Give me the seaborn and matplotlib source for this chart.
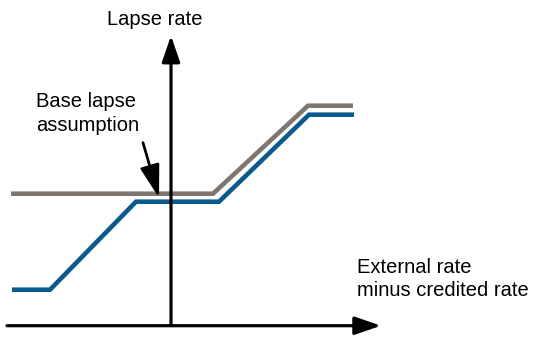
import matplotlib
matplotlib.use('Agg')
import matplotlib.pyplot as plt
import seaborn as sns
import pandas as pd

# Stylised lapse curves (x: external minus credited rate, y: lapse rate)
grey_x = [-8.0, 2.1, 6.85, 9.1]
grey_y = [6.6, 6.6, 11.0, 11.0]
blue_x = [-7.95, -6.05, -1.75, 2.4, 6.9, 9.15]
blue_y = [1.8, 1.8, 6.2, 6.2, 10.55, 10.55]

y_label = 'Lapse rate'
x_label = 'External rate\nminus credited rate'
note = 'Base lapse\nassumption'

sns.set_style('white')
plt.rcParams['font.family'] = ['Liberation Sans', 'DejaVu Sans']
plt.rcParams['text.color'] = 'black'

fig = plt.figure(figsize=(5.44, 3.6), dpi=100)
ax = fig.add_axes([0, 0, 1, 1])

grey = pd.DataFrame({'x': grey_x, 'y': grey_y})
blue = pd.DataFrame({'x': blue_x, 'y': blue_y})
sns.lineplot(data=grey, x='x', y='y', ax=ax, color='#7f776f', lw=3.3,
             sort=False, solid_joinstyle='miter', solid_capstyle='butt')
sns.lineplot(data=blue, x='x', y='y', ax=ax, color='#0b5a8e', lw=3.3,
             sort=False, solid_joinstyle='miter', solid_capstyle='butt')

# axes drawn as arrows
head = '-|>,head_length=1.6,head_width=0.55'
ax.annotate('', xy=(10.5, 0), xytext=(-8.2, 0),
            arrowprops=dict(arrowstyle=head, lw=2.3, color='black',
                            shrinkA=0, shrinkB=0))
ax.annotate('', xy=(0, 14.5), xytext=(0, 0),
            arrowprops=dict(arrowstyle=head, lw=2.3, color='black',
                            shrinkA=0, shrinkB=0))

ax.text(-0.8, 15.3, y_label, ha='center', va='center', fontsize=14.5,
        color='black')
ax.text(9.3, 2.33, x_label, ha='left', va='center', fontsize=14.5,
        linespacing=1.3, color='black')
ax.text(-6.75, 10.6, note, ha='left', va='center', fontsize=14.5,
        linespacing=1.3, color='black')
ax.annotate('', xy=(-0.6, 6.4), xytext=(-1.4, 9.15),
            arrowprops=dict(arrowstyle='-|>,head_length=2.0,head_width=0.6',
                            lw=2.0, color='black', shrinkA=0, shrinkB=0))

ax.set_xlim(-8.55, 18.65)
ax.set_ylim(-1.715, 16.285)
ax.set_axis_off()

fig.savefig('out.png', dpi=100)
